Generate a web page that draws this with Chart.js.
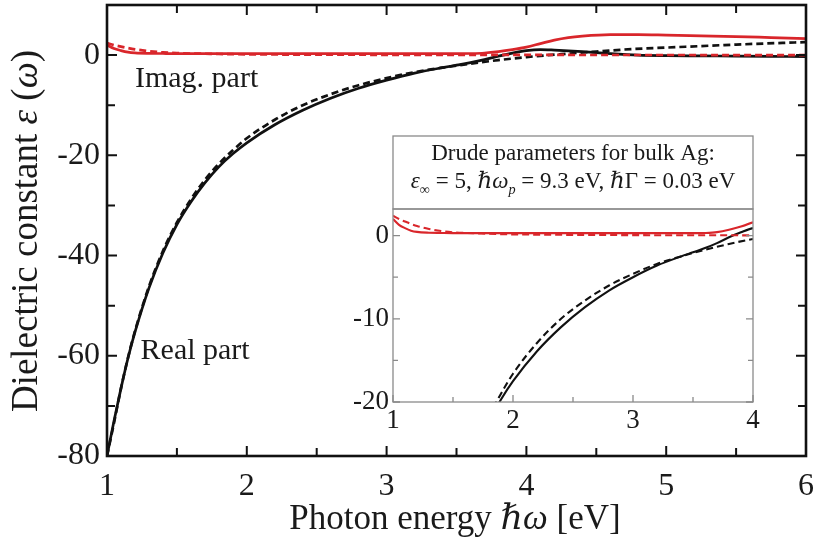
<!DOCTYPE html>
<html>
<head>
<meta charset="utf-8">
<script src="https://cdn.jsdelivr.net/npm/chart.js@4.4.1/dist/chart.umd.min.js"></script>
<style>
  body { margin: 0; background: #fff; }
  #wrap { position: relative; width: 814px; height: 547px; }
  #main { position: absolute; left: 0; top: 0; }
  #inset { position: absolute; left: 345px; top: 130px; }
</style>
</head>
<body>
<div id="wrap">
  <canvas id="main" width="814" height="547"></canvas>
  <canvas id="inset" width="415" height="310"></canvas>
</div>
<script>
// measured (Johnson & Christy style) dielectric function of silver
var energyExp = [1.0, 1.05, 1.1, 1.15, 1.2, 1.3, 1.4, 1.5, 1.6, 1.7, 1.8, 1.9, 2.0, 2.2, 2.4, 2.6, 2.8, 3.0, 3.2, 3.4, 3.5, 3.6, 3.7, 3.8, 3.9, 4.0, 4.1, 4.2, 4.3, 4.4, 4.6, 4.8, 5.0, 5.25, 5.5, 5.75, 6.0];
var realExp = [-80, -73, -66.5, -60.5, -55.3, -46.5, -39.5, -33.8, -29.3, -25.5, -22.3, -19.7, -17.5, -13.9, -11.0, -8.6, -6.6, -5.0, -3.6, -2.5, -2.0, -1.5, -0.9, -0.2, 0.4, 0.9, 1.1, 1.0, 0.85, 0.7, 0.3, 0.0, -0.1, -0.15, -0.2, -0.25, -0.3];
var imagExp = [2.0, 1.3, 0.9, 0.6, 0.45, 0.35, 0.32, 0.3, 0.3, 0.3, 0.3, 0.3, 0.3, 0.3, 0.3, 0.3, 0.3, 0.3, 0.3, 0.3, 0.3, 0.32, 0.42, 0.7, 1.1, 1.6, 2.3, 3.0, 3.5, 3.8, 4.1, 4.1, 4.0, 3.85, 3.7, 3.5, 3.3];

// Drude model curves (dashed)
var energyDrude = [1.0, 1.05, 1.1, 1.15, 1.2, 1.3, 1.4, 1.5, 1.6, 1.7, 1.8, 1.9, 2.0, 2.2, 2.4, 2.6, 2.8, 3.0, 3.2, 3.4, 3.6, 3.8, 4.0, 4.25, 4.5, 4.75, 5.0, 5.5, 6.0];
var realDrude = [-80, -73.4, -66.5, -60.4, -55.1, -46.2, -39.1, -33.4, -28.8, -24.9, -21.7, -19.0, -16.6, -12.9, -10.0, -7.8, -6.0, -4.6, -3.4, -2.5, -1.7, -1.0, -0.4, 0.2, 0.7, 1.2, 1.5, 2.1, 2.6];
var imagDrude = [2.4, 2.0, 1.7, 1.4, 1.15, 0.8, 0.55, 0.4, 0.32, 0.27, 0.22, 0.18, 0.15, 0.12, 0.1, 0.08, 0.07, 0.06, 0.05, 0.05, 0.04, 0.04, 0.03, 0.03, 0.02, 0.02, 0.02, 0.01, 0.01];

// tick values
var mainXTicks = [1, 2, 3, 4, 5, 6];
var mainXMinor = [1.5, 2.5, 3.5, 4.5, 5.5];
var mainYTicks = [-80, -60, -40, -20, 0];
var mainYMinor = [-70, -50, -30, -10];
var insetXTicks = [1, 2, 3, 4];
var insetXMinor = [1.5, 2.5, 3.5];
var insetYTicks = [-20, -10, 0];
var insetYMinor = [-15, -5];

var SERIF = '"Liberation Serif", "DejaVu Serif", serif';
var RED = '#d9262b';
var BLACK = '#111';

function pts(xs, ys) {
  return xs.map(function (x, i) { return { x: x, y: ys[i] }; });
}

function makeDatasets(w) {
  return [
    { data: pts(energyDrude, imagDrude), borderColor: RED, borderWidth: w, borderDash: [7, 4] },
    { data: pts(energyDrude, realDrude), borderColor: BLACK, borderWidth: w, borderDash: [7, 4] },
    { data: pts(energyExp, imagExp), borderColor: RED, borderWidth: w },
    { data: pts(energyExp, realExp), borderColor: BLACK, borderWidth: w }
  ].map(function (d) {
    d.pointRadius = 0;
    d.fill = false;
    d.cubicInterpolationMode = 'monotone';
    return d;
  });
}

// text with italic / subscript pieces, measured then drawn left to right
function richWidth(ctx, parts, size) {
  var w = 0;
  parts.forEach(function (p) {
    var s = p.sub ? size * 0.62 : size;
    ctx.font = (p.i ? 'italic ' : '') + s + 'px ' + SERIF;
    w += ctx.measureText(p.t).width;
  });
  return w;
}
function drawRich(ctx, parts, cx, y, size) {
  var x = cx - richWidth(ctx, parts, size) / 2;
  ctx.textAlign = 'left';
  ctx.textBaseline = 'alphabetic';
  parts.forEach(function (p) {
    var s = p.sub ? size * 0.62 : size;
    ctx.font = (p.i ? 'italic ' : '') + s + 'px ' + SERIF;
    ctx.fillText(p.t, x, y + (p.sub ? size * 0.28 : 0));
    x += ctx.measureText(p.t).width;
  });
}

// inward tick marks on all four sides plus the box
var frameTicks = {
  id: 'frameTicks',
  afterDatasetsDraw: function (chart, args, o) {
    var ctx = chart.ctx, a = chart.chartArea, sx = chart.scales.x, sy = chart.scales.y;
    ctx.save();
    ctx.strokeStyle = o.color;
    ctx.lineWidth = o.tickWidth;
    ctx.beginPath();
    function xt(v, len) {
      var p = sx.getPixelForValue(v);
      ctx.moveTo(p, a.bottom); ctx.lineTo(p, a.bottom - len);
      if (o.top) { ctx.moveTo(p, a.top); ctx.lineTo(p, a.top + len); }
    }
    function yt(v, len) {
      var p = sy.getPixelForValue(v);
      ctx.moveTo(a.left, p); ctx.lineTo(a.left + len, p);
      ctx.moveTo(a.right, p); ctx.lineTo(a.right - len, p);
    }
    o.xMajor.forEach(function (v) { xt(v, o.major); });
    o.xMinor.forEach(function (v) { xt(v, o.minor); });
    o.yMajor.forEach(function (v) { yt(v, o.major); });
    o.yMinor.forEach(function (v) { yt(v, o.minor); });
    ctx.stroke();
    ctx.lineWidth = o.frameWidth;
    ctx.strokeRect(a.left, a.top, a.right - a.left, a.bottom - a.top);
    ctx.restore();
  }
};

var whiteBg = {
  id: 'whiteBg',
  beforeDraw: function (chart) {
    var ctx = chart.ctx;
    ctx.save();
    ctx.fillStyle = '#fff';
    ctx.fillRect(0, 0, chart.width, chart.height);
    ctx.restore();
  }
};

// axis titles and curve labels of the main plot
var mainText = {
  id: 'mainText',
  afterDraw: function (chart) {
    var ctx = chart.ctx, sx = chart.scales.x, sy = chart.scales.y;
    ctx.save();
    ctx.fillStyle = '#1a1a1a';
    drawRich(ctx, [
      { t: 'Photon energy ' }, { t: 'ℏω', i: true }, { t: ' [eV]' }
    ], 455, 529, 35);
    ctx.translate(37, 231);
    ctx.rotate(-Math.PI / 2);
    drawRich(ctx, [
      { t: 'Dielectric constant ' }, { t: 'ε', i: true }, { t: ' (' }, { t: 'ω', i: true }, { t: ')' }
    ], 0, 0, 37);
    ctx.restore();

    ctx.save();
    ctx.fillStyle = '#1a1a1a';
    ctx.font = '30px ' + SERIF;
    ctx.textAlign = 'left';
    ctx.textBaseline = 'middle';
    ctx.fillText('Imag. part', sx.getPixelForValue(1.2), sy.getPixelForValue(-4.8));
    ctx.fillText('Real part', sx.getPixelForValue(1.24), sy.getPixelForValue(-59));
    ctx.restore();
  }
};

// parameter box above the inset plot
var insetBox = {
  id: 'insetBox',
  afterDraw: function (chart) {
    var ctx = chart.ctx, a = chart.chartArea;
    var cx = (a.left + a.right) / 2;
    ctx.save();
    ctx.strokeStyle = '#8a8a8a';
    ctx.lineWidth = 1.3;
    ctx.strokeRect(a.left, 6, a.right - a.left, a.top - 6);
    ctx.fillStyle = '#1a1a1a';
    drawRich(ctx, [{ t: 'Drude parameters for bulk Ag:' }], cx, 30, 23);
    drawRich(ctx, [
      { t: 'ε', i: true }, { t: '∞', sub: true }, { t: ' = 5, ' },
      { t: 'ℏω', i: true }, { t: 'p', i: true, sub: true }, { t: ' = 9.3 eV, ' },
      { t: 'ℏ', i: true }, { t: 'Γ = 0.03 eV' }
    ], cx, 58, 23);
    ctx.restore();
  }
};

function axis(min, max, tickVals, size, pad, fit) {
  return {
    type: 'linear',
    min: min,
    max: max,
    grid: { display: false, drawTicks: false },
    border: { display: false },
    afterBuildTicks: function (s) {
      s.ticks = tickVals.map(function (v) { return { value: v }; });
    },
    afterFit: function (s) {
      fit(s);
      s.paddingLeft = 0; s.paddingRight = 0; s.paddingTop = 0; s.paddingBottom = 0;
    },
    ticks: {
      autoSkip: false,
      maxRotation: 0,
      padding: pad,
      color: '#1a1a1a',
      font: { family: SERIF, size: size },
      callback: function (v) { return String(v); }
    }
  };
}

Chart.defaults.font.family = SERIF;

new Chart(document.getElementById('main'), {
  type: 'line',
  data: { datasets: makeDatasets(2.7) },
  plugins: [whiteBg, frameTicks, mainText],
  options: {
    responsive: false,
    animation: false,
    devicePixelRatio: 1,
    layout: { padding: { left: 0, top: 5, right: 8, bottom: 0 } },
    plugins: {
      legend: { display: false },
      tooltip: { enabled: false },
      frameTicks: {
        color: '#111', tickWidth: 2, frameWidth: 2.6, major: 10, minor: 8, top: true,
        xMajor: mainXTicks, xMinor: mainXMinor, yMajor: mainYTicks, yMinor: mainYMinor
      }
    },
    scales: {
      x: axis(1, 6, mainXTicks, 32, 11, function (s) { s.height = 91; }),
      y: axis(-80, 10, mainYTicks, 32, 7, function (s) { s.width = 107; })
    }
  }
});

new Chart(document.getElementById('inset'), {
  type: 'line',
  data: { datasets: makeDatasets(2.1) },
  plugins: [whiteBg, frameTicks, insetBox],
  options: {
    responsive: false,
    animation: false,
    devicePixelRatio: 1,
    layout: { padding: { left: 0, top: 79, right: 7, bottom: 0 } },
    plugins: {
      legend: { display: false },
      tooltip: { enabled: false },
      frameTicks: {
        color: '#8a8a8a', tickWidth: 1.3, frameWidth: 1.3, major: 7, minor: 5, top: false,
        xMajor: insetXTicks, xMinor: insetXMinor, yMajor: insetYTicks, yMinor: insetYMinor
      }
    },
    scales: {
      x: axis(1, 4, insetXTicks, 27, 3, function (s) { s.height = 38; }),
      y: axis(-20, 3.2, insetYTicks, 27, 4, function (s) { s.width = 48; })
    }
  }
});
</script>
</body>
</html>
